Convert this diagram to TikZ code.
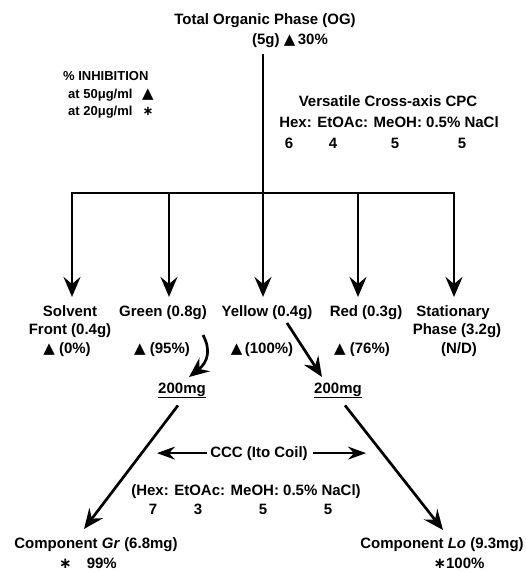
\documentclass[tikz,border=0pt]{standalone}
\usepackage{fontspec}
\setmainfont{Liberation Sans}
\newfontfamily\dv{DejaVu Sans}
\usetikzlibrary{arrows.meta}
\newcommand\tri{{\dv\fontsize{15}{15}\selectfont ▲}}
\newcommand\mystar{{\dv\bfseries ∗}}
\begin{document}
\begin{tikzpicture}[x=1pt,y=-1pt,
  txt/.style={font=\fontsize{15}{17}\selectfont\bfseries, inner sep=0pt, anchor=base},
  small/.style={font=\fontsize{13}{15}\selectfont\bfseries, inner sep=0pt, anchor=base},
  ln/.style={line width=2.7pt},
  arr/.style={line width=2.7pt, -{Stealth[length=20pt,width=17pt,inset=7pt]}},
  harr/.style={line width=2.4pt, -{Stealth[length=18pt,width=13pt,inset=6pt]}},
]
\useasboundingbox (0,0) rectangle (525,572);
% title
\node[txt] (og) at (265,25) {Total Organic Phase (OG)};
\node[txt] (og2) at (290,45) {(5g) \tri\,30\%};
% legend
\node[small, anchor=base west] (inh) at (63,81) {\% INHIBITION};
\node[small, anchor=base west] (l50) at (68,99) {at 50μg/ml};
\node[small] (t50) at (148,99) {\tri};
\node[small, anchor=base west] (l20) at (68,116) {at 20μg/ml};
\node[small] (s20) at (148,116) {\mystar};
% CPC
\node[txt] (vcc) at (388,107) {Versatile Cross-axis CPC};
\node[txt] (hex1) at (389,128) {Hex: EtOAc: MeOH: 0.5\% NaCl};
\node[txt] (n1) at (289,149) {6};
\node[txt] (n2) at (333,149) {4};
\node[txt] (n3) at (395,149) {5};
\node[txt] (n4) at (462,149) {5};
% tree
\coordinate (j) at (263,193);
\coordinate (b1) at (72,193);
\coordinate (b2) at (169,193);
\coordinate (b4) at (358,193);
\coordinate (b5) at (454,193);
\draw[ln] (og2.south -| j) ++(0,6) -- (j);
\draw[ln, line cap=rect] (b1) -- (b5);
% labels
\node[txt] (solvent) at (70,316) {Solvent};
\node[txt] (green) at (163,316) {Green (0.8g)};
\node[txt] (yellow) at (267,316) {Yellow (0.4g)};
\node[txt] (red) at (366,316) {Red (0.3g)};
\node[txt] (stat) at (453,316) {Stationary};
\node[txt] (front) at (70,334) {Front (0.4g)};
\node[txt] (phase) at (457,334) {Phase (3.2g)};
\node[txt] (p0) at (67,353) {\tri\ (0\%)};
\node[txt] (p95) at (162,353) {\tri\ (95\%)};
\node[txt] (p100) at (262,353) {\tri\,(100\%)};
\node[txt] (p76) at (362,353) {\tri\ (76\%)};
\node[txt] (nd) at (459,353) {(N/D)};
\foreach \b/\l in {b1/solvent,b2/green,j/yellow,b4/red,b5/stat}
  \draw[arr, shorten >=8pt] (\b) -- (\b |- \l.north);
% 200mg
\node[txt] (mg1) at (182,393) {\underline{200mg}};
\node[txt] (mg2) at (338,393) {\underline{200mg}};
\coordinate (gs) at (203,335);
\coordinate (gt) at (189,377);
\coordinate (ys) at (287,323);
\coordinate (yt) at (322,377);
\draw[arr] (gs) .. controls (211,350) and (208,362) .. (gt);
\draw[arr] (ys) -- (yt);
% CCC
\node[txt] (ccc) at (259,457) {CCC (Ito Coil)};
\coordinate (cl) at (157,0);
\coordinate (cr) at (366,0);
\draw[harr] ([xshift=-3pt]ccc.west) -- (ccc.west -| cl);
\draw[harr] ([xshift=5pt]ccc.east) -- (ccc.east -| cr);
\node[txt] (hex2) at (246,495) {(Hex: EtOAc: MeOH: 0.5\% NaCl)};
\node[txt] (m1) at (153,514) {7};
\node[txt] (m2) at (198,514) {3};
\node[txt] (m3) at (263,514) {5};
\node[txt] (m4) at (328,514) {5};
% components
\node[txt] (gr) at (96,548) {Component \textit{Gr} (6.8mg)};
\node[txt] (gr2) at (88,568) {\mystar\quad 99\%};
\node[txt] (lo) at (442,548) {Component \textit{Lo} (9.3mg)};
\node[txt] (lo2) at (459,568) {\mystar100\%};
\coordinate (gte) at (84,529);
\coordinate (lte) at (443,530);
\draw[arr] ([xshift=-4pt,yshift=-7pt]mg1.south) -- (gte);
\draw[arr] ([xshift=7pt,yshift=-7pt]mg2.south) -- (lte);
\end{tikzpicture}
\end{document}
